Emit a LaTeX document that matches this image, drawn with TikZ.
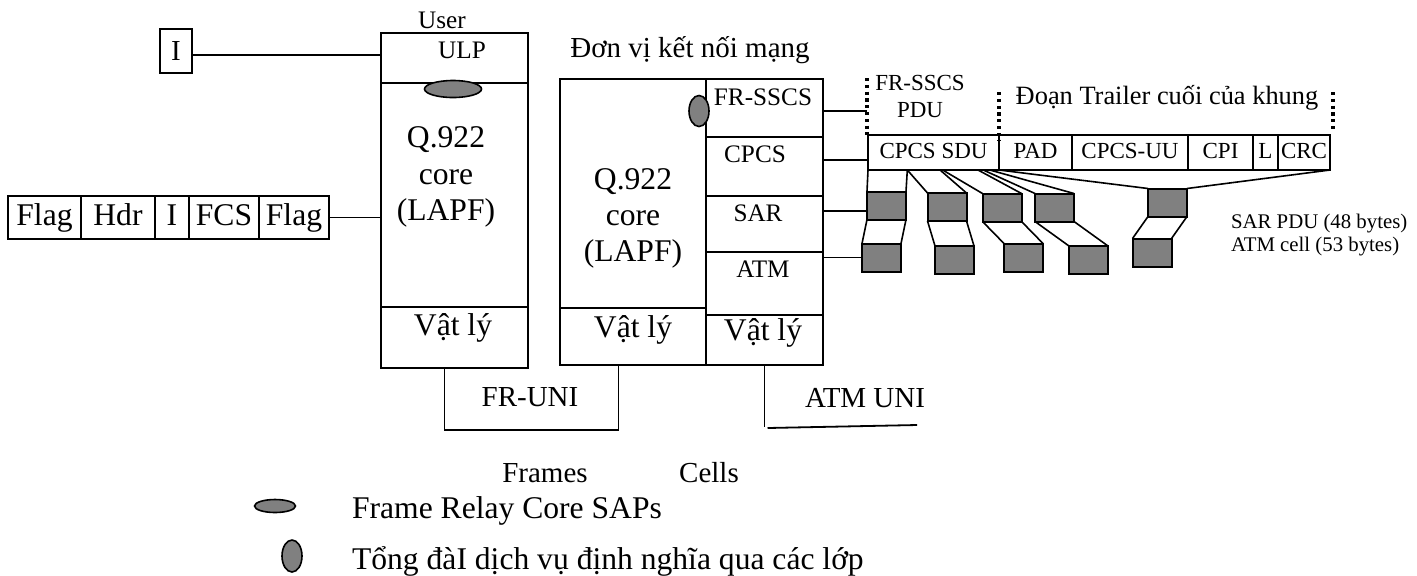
\documentclass[tikz,border=0pt]{standalone}
\usepackage{fontspec}
\setmainfont{Liberation Serif}
\usetikzlibrary{calc, positioning, shapes.geometric}

\tikzset{
  box/.style 2 args={draw, line width=1pt, inner sep=0pt, outer sep=0pt,
    minimum width=#1*0.5pt, minimum height=#2*0.5pt},
  cell/.style={box={39}{28}, fill=gray},
  sap/.style={ellipse, draw, line width=0.8pt, fill=gray, inner sep=0pt},
  lnk/.style={line width=0.8pt},
  dots/.style={line width=1.6pt, dash pattern=on 1.6pt off 1.8pt},
  fbig/.style={font=\fontsize{15.8}{18.3}\selectfont},
  fmid/.style={font=\fontsize{12.6}{15}\selectfont},
  fsub/.style={font=\fontsize{14.5}{17}\selectfont},
  frow/.style={font=\fontsize{11.5}{13.5}\selectfont, text height=8.2pt, text depth=2.4pt},
  fsmall/.style={font=\fontsize{10.4}{11.5}\selectfont},
}

\begin{document}
\begin{tikzpicture}[x=0.5pt, y=-0.5pt]
  \useasboundingbox (0,0) rectangle (1417,575);

  % phia nguoi dung
  \node[fmid] (user) at (442,20) {User};
  \node[box={147}{50}] (ulp) at (454.5,58) {};
  \node[fmid] (tulp) at (462,50) {ULP};
  \node[box={147}{224}] (coreA) at (454.5,195) {};
  \node[box={147}{61}] (phyA) at (454.5,337.5) {};
  \node[fbig, align=center] (tcoreA) at (446,177) {Q.922\\core\\(LAPF)};
  \node[fbig] (tphyA) at (453,328) {Vật lý};
  \node[sap, minimum width=28.5pt, minimum height=8.5pt] (sapA) at (453,89) {};

  \node[box={32}{44}, fsub] (ibox) at (176,51) {I};
  \draw[lnk] ([yshift=-2pt]ibox.east) coordinate (iout) -- (iout -| ulp.west);

  % khung frame relay
  \node[box={73}{43}, fbig, text height=11pt, text depth=3.4pt] (flag1) at (44.5,217.5) {Flag};
  \node[box={74}{43}, fbig, text height=11pt, text depth=3.4pt, right=0pt of flag1] (hdr) {Hdr};
  \node[box={34}{43}, fbig, text height=11pt, text depth=3.4pt, right=0pt of hdr] (iinfo) {I};
  \node[box={70}{43}, fbig, text height=11pt, text depth=3.4pt, right=0pt of iinfo] (fcs) {FCS};
  \node[box={70}{43}, fbig, text height=11pt, text depth=3.4pt, right=0pt of fcs] (flag2) {Flag};
  \draw[lnk] (flag2.east) -- (flag2.east -| coreA.west);

  % don vi ket noi mang
  \node[fsub] (iwf) at (690,50) {Đơn vị kết nối mạng};
  \node[box={146}{229}] (coreB) at (633,193.5) {};
  \node[box={146}{57}] (phyB) at (633,336.5) {};
  \node[font=\fontsize{15.8}{18}\selectfont, align=center] (tcoreB) at (633,218) {Q.922\\core\\(LAPF)};
  \node[fbig] (tphyB) at (633,330) {Vật lý};

  \node[box={117}{58}] (frsscs) at (764.5,108) {};
  \node[box={117}{59}, below=0pt of frsscs] (cpcs) {};
  \node[box={117}{56}, below=0pt of cpcs] (sar) {};
  \node[box={117}{63}, below=0pt of sar] (atm) {};
  \node[box={117}{50}, below=0pt of atm] (phyC) {};
  \node[fmid] (tfr) at (763,97) {FR-SSCS};
  \node[fmid] (tcpcs) at (755,154) {CPCS};
  \node[fmid] (tsar) at (758,213) {SAR};
  \node[fmid] (tatm) at (763,269) {ATM};
  \node[fbig] (tphyC) at (763,333) {Vật lý};
  \node[sap, minimum width=10pt, minimum height=15.5pt] (sapB) at (699,111) {};

  % CPCS PDU
  \node[box={131}{35}, frow] (sdu) at (933.5,152.5) {CPCS SDU};
  \node[box={73}{35}, frow, right=0pt of sdu] (pad) {PAD};
  \node[box={116}{35}, frow, right=0pt of pad] (cpcsuu) {CPCS-UU};
  \node[box={65}{35}, frow, right=0pt of cpcsuu] (cpi) {CPI};
  \node[box={25}{35}, frow, right=0pt of cpi] (lfield) {L};
  \node[box={52}{35}, frow, right=0pt of lfield] (crc) {CRC};

  \draw[dots] (867,78) -- (867,135);
  \draw[dots] (999,92) -- (999,140);
  \draw[dots] (1333,92) -- (1333,132);
  \node[font=\fontsize{11.5}{13.5}\selectfont, align=center] (tpdu) at (920,96.5) {FR-SSCS\\PDU};
  \node[font=\fontsize{13.2}{15}\selectfont] (ttrail) at (1167,98) {Đoạn Trailer cuối của khung};

  % SAR PDU va te bao ATM
  \node[cell] (b1) at (886.5,205.5) {};
  \node[cell] (b2) at (947,207) {};
  \node[cell] (b3) at (1002,207.5) {};
  \node[cell] (b4) at (1054.5,207.5) {};
  \node[cell] (b5) at (1167.5,202.5) {};
  \node[cell] (c1) at (881.5,257.5) {};
  \node[cell] (c2) at (954.5,260) {};
  \node[cell] (c3) at (1023.5,257.5) {};
  \node[cell] (c4) at (1088.5,260) {};
  \node[cell] (c5) at (1152,252.5) {};

  \coordinate (frin) at (867,111);
  \draw[lnk] (frsscs.east |- frin) -- (frin);
  \path ([yshift=-3.75pt]sdu.west) coordinate (cpcsin);
  \draw[lnk] (cpcsin -| cpcs.east) -- (cpcsin);
  \path ([yshift=-2.75pt]b1.west) coordinate (sarin);
  \draw[lnk] (sarin -| sar.east) -- (sarin);
  \draw[lnk] (c1.west -| atm.east) -- (c1.west);

  \coordinate (s1) at ($(sdu.south west)!0.30!(sdu.south east)$);
  \coordinate (s2) at ($(sdu.south west)!0.55!(sdu.south east)$);
  \coordinate (s3) at ($(sdu.south west)!0.57!(sdu.south east)$);
  \coordinate (s4) at ($(sdu.south west)!0.84!(sdu.south east)$);
  \coordinate (s5) at ($(sdu.south west)!0.88!(sdu.south east)$);
  \coordinate (s6) at ($(sdu.south west)!0.93!(sdu.south east)$);
  \draw[lnk] (sdu.south west) -- (b1.north west) (s1) -- (b1.north east);
  \draw[lnk] (s1) -- (b2.north west) (s2) -- (b2.north east);
  \draw[lnk] (s3) -- (b3.north west) (s4) -- (b3.north east);
  \draw[lnk] (s5) -- (b4.north west) (s6) -- (b4.north east);
  \draw[lnk] (sdu.south east) -- (b5.north west) (crc.south east) -- (b5.north east);
  \foreach \k in {1,...,5}
    \draw[lnk] (b\k.south west) -- (c\k.north west) (b\k.south east) -- (c\k.north east);

  \node[fsmall, anchor=west] (tsarpdu) at (1224,224) {SAR PDU (48 bytes)};
  \node[fsmall, anchor=west] (tcell) at (1224,247) {ATM cell (53 bytes)};

  % giao dien UNI
  \coordinate (fra) at ($(phyA.south west)!0.43!(phyA.south east)$);
  \coordinate (frb) at ($(phyB.south west)!0.40!(phyB.south east)$);
  \draw[line width=0.7pt] (fra) -- ++(0,62) -| (frb);
  \node[fsub] (tfruni) at (530,397) {FR-UNI};
  \coordinate (uniend) at (917,425);
  \draw[line width=0.7pt] (phyC.south) -- ++(0,62);
  \draw[line width=0.9pt] (phyC.south) ++(3,63) -- (uniend);
  \node[fsub] (tatmuni) at (865,398) {ATM UNI};
  \node[fsub] (tframes) at (545,473) {Frames};
  \node[fsub] (tcells) at (709,473) {Cells};

  % chu thich
  \node[sap, minimum width=20.5pt, minimum height=6.5pt] (sapL1) at (275,506) {};
  \node[fbig, anchor=west] (tsapL1) at (345,511) {Frame Relay Core SAPs};
  \node[sap, minimum width=10pt, minimum height=16pt] (sapL2) at (292,556) {};
  \node[fbig, anchor=west] (tsapL2) at (345,561) {Tổng đàI dịch vụ định nghĩa qua các lớp};
\end{tikzpicture}
\end{document}
